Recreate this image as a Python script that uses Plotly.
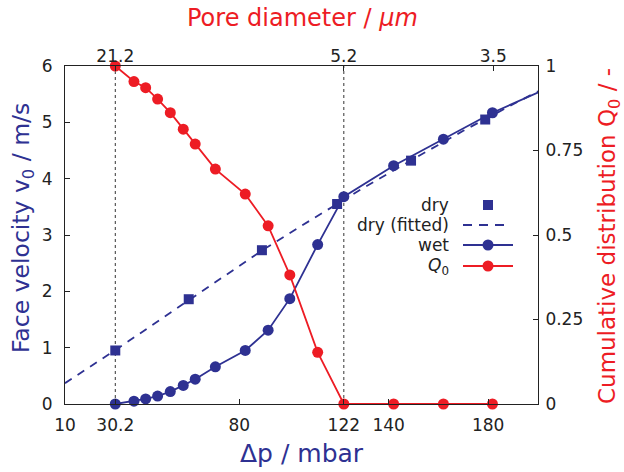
import plotly.graph_objects as go

# ---- measured data ----
# pressure drop steps (mbar) shared by the wet-flow and cumulative curves
dp_wet = [30.2, 37.7, 42.4, 47.2, 52.3, 57.5, 62.3, 70.4, 82.4, 91.6,
          100.3, 111.5, 122.0, 142.0, 162.0, 181.7, 201.5]
v_wet = [0.0, 0.05, 0.09, 0.14, 0.22, 0.33, 0.44, 0.66, 0.95, 1.31,
         1.87, 2.83, 3.68, 4.23, 4.70, 5.17, 5.56]

dp_q0 = [30.2, 37.7, 42.4, 47.2, 52.3, 57.5, 62.3, 70.4, 82.4, 91.6,
         100.3, 111.5, 122.0, 142.0, 162.0, 181.7]
q0 = [1.0, 0.954, 0.936, 0.902, 0.862, 0.813, 0.769, 0.695, 0.621, 0.527,
      0.382, 0.153, 0.0, 0.0, 0.0, 0.0]

# dry-flow measurements
dp_dry = [30.2, 59.7, 89.1, 119.3, 149.0, 178.8]
v_dry = [0.95, 1.86, 2.73, 3.55, 4.32, 5.05]

# fitted dry-flow curve
dp_fit = [10, 30, 50, 70, 90, 110, 130, 150, 170, 190, 200]
v_fit = [0.37, 0.95, 1.55, 2.15, 2.75, 3.30, 3.84, 4.35, 4.85, 5.32, 5.55]

# axis ticks
dp_ticks = [10, 30.2, 80, 122, 140, 180]
dp_ticktext = ["10", "30.2", "80", "122", "140", "180"]
pore_tick_pos = [30.2, 122, 182]
pore_ticktext = ["21.2", "5.2", "3.5"]
v_ticks = [0, 1, 2, 3, 4, 5, 6]
q_ticks = [0, 0.25, 0.5, 0.75, 1]
q_ticktext = ["0", "0.25", "0.5", "0.75", "1"]
marker_lines_at = [30.2, 122]

X_RANGE = [10, 200]

BLUE = "#2e3192"
RED = "#ed1c24"
INK = "#222222"
FONT = "DejaVu Sans"

fig = go.Figure()

# dry (fitted)
fig.add_trace(go.Scatter(
    x=dp_fit, y=v_fit, mode="lines", xaxis="x", yaxis="y",
    line=dict(color=BLUE, width=1.8, dash="8px,7px"), showlegend=False))

# wet: line clipped to the frame, markers allowed to sit on the frame
fig.add_trace(go.Scatter(
    x=dp_wet, y=v_wet, mode="lines", xaxis="x", yaxis="y",
    line=dict(color=BLUE, width=1.8), showlegend=False))
in_range = [(a, b) for a, b in zip(dp_wet, v_wet) if X_RANGE[0] <= a <= X_RANGE[1]]
fig.add_trace(go.Scatter(
    x=[p[0] for p in in_range], y=[p[1] for p in in_range], mode="markers",
    xaxis="x", yaxis="y", cliponaxis=False,
    marker=dict(color=BLUE, size=11, symbol="circle"), showlegend=False))

# dry squares
fig.add_trace(go.Scatter(
    x=dp_dry, y=v_dry, mode="markers", xaxis="x", yaxis="y", cliponaxis=False,
    marker=dict(color=BLUE, size=10, symbol="square"), showlegend=False))

# cumulative distribution Q0
fig.add_trace(go.Scatter(
    x=dp_q0, y=q0, mode="lines+markers", xaxis="x2", yaxis="y2", cliponaxis=False,
    line=dict(color=RED, width=1.8),
    marker=dict(color=RED, size=11, symbol="circle"), showlegend=False))

# vertical guides at the labelled pore diameters
shapes = []
for xv in marker_lines_at:
    shapes.append(dict(type="line", xref="x", yref="paper", x0=xv, x1=xv, y0=0, y1=1,
                       line=dict(color="#333333", width=1, dash="3px,3px"), layer="below"))

# ---- hand-built legend (labels right-aligned, samples on the right) ----
L, R, T, B = 65, 538, 66, 404
W, H = R - L, B - T


def px(xp):
    return (xp - L) / W


def py(yp):
    return (B - yp) / H


rows = [205, 225, 245, 266]
labels = ["dry", "dry (fitted)", "wet", "<i>Q</i><sub>0</sub>"]
annotations = []
for lab, r in zip(labels, rows):
    annotations.append(dict(text=lab, xref="paper", yref="paper", x=px(451), y=py(r),
                            xanchor="right", yanchor="middle", showarrow=False,
                            font=dict(family=FONT, size=17, color=INK)))

sym_x = 488
# dry square
shapes.append(dict(type="rect", xref="paper", yref="paper", xsizemode="pixel", ysizemode="pixel",
                   xanchor=px(sym_x), yanchor=py(rows[0]), x0=-5, x1=5, y0=-5, y1=5,
                   fillcolor=BLUE, line=dict(width=0)))
# dry fitted dashes
shapes.append(dict(type="line", xref="paper", yref="paper", x0=px(463), x1=px(505),
                   y0=py(rows[1]), y1=py(rows[1]), line=dict(color=BLUE, width=1.8, dash="9px,7px")))
# wet and Q0 samples
for r, c in [(rows[2], BLUE), (rows[3], RED)]:
    shapes.append(dict(type="line", xref="paper", yref="paper", x0=px(463), x1=px(513),
                       y0=py(r), y1=py(r), line=dict(color=c, width=1.8)))
    shapes.append(dict(type="circle", xref="paper", yref="paper", xsizemode="pixel", ysizemode="pixel",
                       xanchor=px(sym_x), yanchor=py(r), x0=-5.5, x1=5.5, y0=-5.5, y1=5.5,
                       fillcolor=c, line=dict(width=0)))

# axis titles
annotations += [
    dict(text="Δp / mbar", xref="paper", yref="paper", x=px(302), y=py(453),
         xanchor="center", yanchor="middle", showarrow=False,
         font=dict(family=FONT, size=25, color=BLUE)),
    dict(text="Pore diameter / <i>μm</i>", xref="paper", yref="paper", x=px(302), y=py(18),
         xanchor="center", yanchor="middle", showarrow=False,
         font=dict(family=FONT, size=24, color=RED)),
    dict(text="Face velocity v<sub>0</sub> / m/s", xref="paper", yref="paper", x=px(22), y=py(228),
         xanchor="center", yanchor="middle", showarrow=False, textangle=-90,
         font=dict(family=FONT, size=23.5, color=BLUE)),
    dict(text="Cumulative distribution Q<sub>0</sub> / -", xref="paper", yref="paper", x=px(609), y=py(236),
         xanchor="center", yanchor="middle", showarrow=False, textangle=-90,
         font=dict(family=FONT, size=23, color=RED)),
]

tick_font = dict(family=FONT, size=17, color=INK)
axis_common = dict(showgrid=False, zeroline=False, showline=True, linecolor="#222222", linewidth=1,
                   ticks="inside", ticklen=5, tickcolor="#222222", tickfont=tick_font)

fig.update_layout(
    width=624, height=472,
    margin=dict(l=L, r=624 - R, t=T, b=472 - B, pad=0),
    paper_bgcolor="white", plot_bgcolor="white",
    font=dict(family=FONT, color=INK),
    showlegend=False,
    xaxis=dict(range=X_RANGE, tickmode="array", tickvals=dp_ticks, ticktext=dp_ticktext,
               ticklabelstandoff=6, **axis_common),
    xaxis2=dict(range=X_RANGE, overlaying="x", side="top", anchor="y2", tickmode="array",
                tickvals=pore_tick_pos, ticktext=pore_ticktext, ticklabelstandoff=-4, **axis_common),
    yaxis=dict(range=[0, 6], tickmode="array", tickvals=v_ticks, ticklabelstandoff=8, **axis_common),
    yaxis2=dict(range=[0, 1], overlaying="y", side="right", anchor="x2", tickmode="array",
                tickvals=q_ticks, ticktext=q_ticktext, ticklabelstandoff=3, **axis_common),
    shapes=shapes,
    annotations=annotations,
)

fig.write_html("out.html")
